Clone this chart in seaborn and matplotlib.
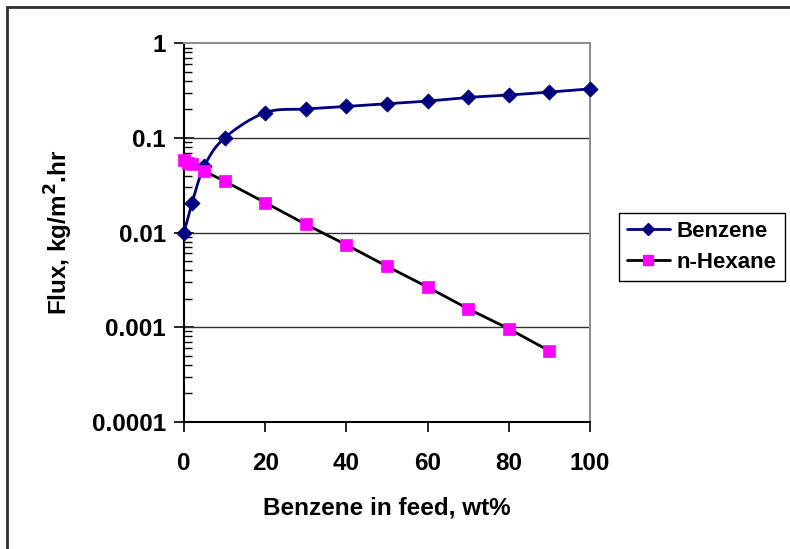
import numpy as np
import pandas as pd
import matplotlib
matplotlib.use("Agg")
import matplotlib.pyplot as plt
from matplotlib.lines import Line2D
from matplotlib.patches import Rectangle
import seaborn as sns

# ---- data ----
benzene_x = [0, 2, 5, 10, 20, 30, 40, 50, 60, 70, 80, 90, 100]
benzene_flux = [0.0100, 0.0207, 0.0502, 0.100, 0.185, 0.202, 0.215, 0.230,
                0.245, 0.268, 0.284, 0.305, 0.330]
hexane_x = [0, 1, 2, 5, 10, 20, 30, 40, 50, 60, 70, 80, 90]
hexane_flux = [0.0577, 0.0546, 0.0524, 0.0445, 0.0349, 0.0207, 0.0122,
               0.0074, 0.00439, 0.00265, 0.00156, 0.00096, 0.00056]
x_ticks = [0, 20, 40, 60, 80, 100]
y_ticks = [0.0001, 0.001, 0.01, 0.1, 1]
y_tick_labels = ["0.0001", "0.001", "0.01", "0.1", "1"]

sns.set_theme(style="white")
plt.rcParams['font.family'] = ['Liberation Sans', 'DejaVu Sans']
plt.rcParams['font.weight'] = 'bold'
plt.rcParams['text.color'] = 'black'
plt.rcParams['axes.labelcolor'] = 'black'
plt.rcParams['xtick.color'] = 'black'
plt.rcParams['ytick.color'] = 'black'

FS = 17.5
LFS = 16

W, H = 790, 549
fig = plt.figure(figsize=(W / 100, H / 100), dpi=100)
ax = fig.add_axes([184 / W, 1 - 421.7 / H, (590 - 184) / W, (421.7 - 43.3) / H])


def smooth(xs, ys, n=20):
    """Excel-style smoothed curve (Catmull-Rom in x / log10(y) space)."""
    px = np.asarray(xs, float)
    py = np.log10(np.asarray(ys, float))
    P = np.column_stack([px, py])
    P = np.vstack([P[0], P, P[-1]])
    out = []
    t = np.linspace(0, 1, n, endpoint=False)
    for i in range(1, len(P) - 2):
        p0, p1, p2, p3 = P[i - 1], P[i], P[i + 1], P[i + 2]
        c1 = p1 + (p2 - p0) / 6
        c2 = p2 - (p3 - p1) / 6
        b = ((1 - t) ** 3)[:, None] * p1 + (3 * (1 - t) ** 2 * t)[:, None] * c1 \
            + (3 * (1 - t) * t ** 2)[:, None] * c2 + (t ** 3)[:, None] * p2
        out.append(b)
    out.append(P[-2][None, :])
    out = np.vstack(out)
    return out[:, 0], 10 ** out[:, 1]


navy = "#000080"
magenta = "#FF00FF"

sx, sy = smooth(benzene_x, benzene_flux)
ax.plot(sx, sy, color=navy, lw=2.0, zorder=3, clip_on=False)

hex_df = pd.DataFrame({"x": hexane_x, "y": hexane_flux})
sns.lineplot(data=hex_df, x="x", y="y", ax=ax, color="black", lw=2.0,
             sort=False, estimator=None, zorder=3)

ben_df = pd.DataFrame({"x": benzene_x, "y": benzene_flux})
sns.scatterplot(data=ben_df, x="x", y="y", ax=ax, marker="D", s=60,
                color=navy, edgecolor=navy, linewidth=0.5, zorder=4, clip_on=False)
sns.scatterplot(data=hex_df, x="x", y="y", ax=ax, marker="s", s=75,
                color=magenta, edgecolor=magenta, linewidth=0.5, zorder=4, clip_on=False)

ax.set_yscale("log")
ax.set_xlim(0, 100)
ax.set_ylim(0.0001, 1)
ax.set_xticks(x_ticks)
ax.set_xticklabels([str(v) for v in x_ticks], fontsize=FS, fontweight="bold")
ax.set_yticks(y_ticks)
ax.set_yticklabels(y_tick_labels, fontsize=FS, fontweight="bold")
ax.yaxis.set_minor_locator(matplotlib.ticker.LogLocator(base=10, subs=np.arange(2, 10)))
ax.yaxis.set_minor_formatter(matplotlib.ticker.NullFormatter())

for v in [0.001, 0.01, 0.1]:
    ax.axhline(v, color="#303030", lw=1.0, zorder=1)

ax.tick_params(axis="y", which="major", direction="inout", length=14, width=1.2,
               left=True, pad=6)
ax.tick_params(axis="y", which="minor", direction="in", length=6, width=1.0,
               left=True)
ax.tick_params(axis="x", which="major", direction="out", length=7, width=1.2,
               bottom=True, pad=15)

for side in ["left", "bottom"]:
    ax.spines[side].set_color("black")
    ax.spines[side].set_linewidth(1.5)
for side in ["top", "right"]:
    ax.spines[side].set_color("#909090")
    ax.spines[side].set_linewidth(1.5)

ax.set_xlabel("Benzene in feed, wt%", fontsize=FS, fontweight="bold", labelpad=15)
ax.set_ylabel("Flux, kg/m$^\\mathbf{2}$.hr", fontsize=FS, fontweight="bold", labelpad=12)

handles = [
    Line2D([0], [0], color=navy, lw=2, marker="D", markersize=6,
           markerfacecolor=navy, markeredgecolor=navy),
    Line2D([0], [0], color="black", lw=2, marker="s", markersize=7,
           markerfacecolor=magenta, markeredgecolor=magenta),
]
leg = fig.legend(handles, ["Benzene", "n-Hexane"], loc="upper left",
                 bbox_to_anchor=(619 / W, 1 - 213 / H), frameon=True,
                 fancybox=False, edgecolor="black", framealpha=1,
                 prop={"size": LFS, "weight": "bold"}, handlelength=1.95,
                 borderpad=0.35, labelspacing=0.45, handletextpad=0.3,
                 borderaxespad=0)
leg.get_frame().set_linewidth(1.0)

fig.patches.append(Rectangle((7 / W, -0.1), 1.2, 1 - 7 / H + 0.1,
                             transform=fig.transFigure, fill=False,
                             edgecolor="#303030", lw=2.0))

fig.savefig("out.png", dpi=100)
